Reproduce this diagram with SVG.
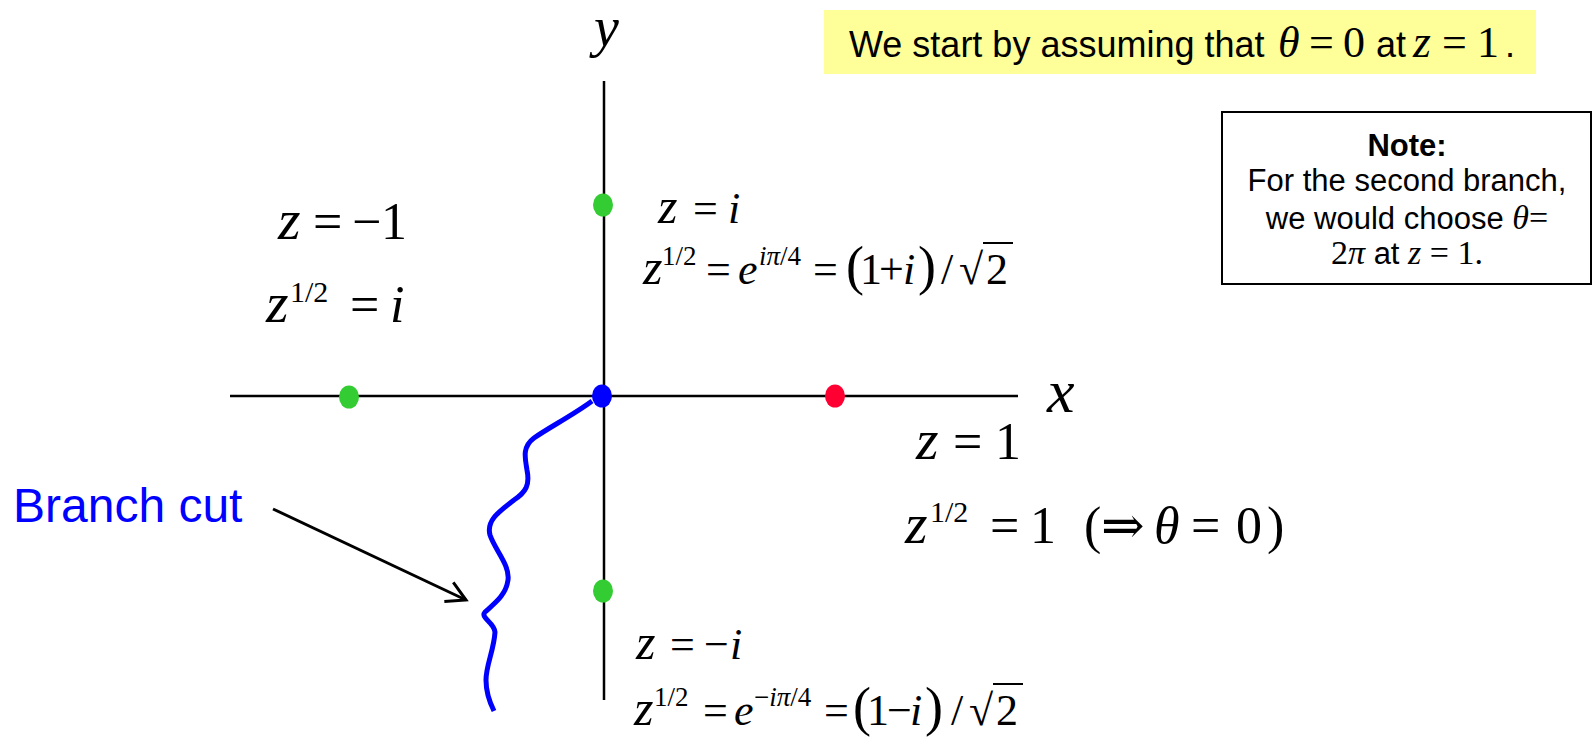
<svg xmlns="http://www.w3.org/2000/svg" width="1593" height="737" viewBox="0 0 1593 737">
<style>
.ax{stroke:#000;stroke-width:2.5;fill:none}
.sf{font-family:"Liberation Serif","DejaVu Serif",serif;fill:#000}
.it{font-style:italic}
.ar{font-family:"Liberation Sans",Arial,sans-serif;fill:#000}
.big{font-size:52px}
.med{font-size:44px}
.zb{font-size:58px}
.zm{font-size:50px}
.sup{font-size:30px}
.sup2{font-size:27px}
.par{font-size:54px}
.g{fill:#33CC33}
.bar{stroke:#000;stroke-width:2}
</style>
<defs>
<marker id="arrowOpen" markerUnits="userSpaceOnUse" viewBox="-25 -15 30 30" markerWidth="30" markerHeight="30" refX="0" refY="0" orient="auto">
<path d="M-19,-10.5 L0,0 L-19,10.5" fill="none" stroke="#000" stroke-width="3"/>
</marker>
</defs>
<rect width="1593" height="737" fill="#fff"/>

<g id="axes">
<line class="ax" x1="230" y1="396" x2="1018" y2="396"/>
<line class="ax" x1="604" y1="81" x2="604" y2="700"/>
<text class="sf it" x="594" y="46" font-size="56">y</text>
<text class="sf it" x="1047" y="412" font-size="62">x</text>
</g>

<g id="branch-cut">
<path d="M592,401 C575,414 548,428 534,438 C522,447 525,458 527,470 C530,485 526,492 514,500 C500,511 486,520 490,535 C495,550 510,565 508,580 C506,595 495,603 485,612 C480,618 494,622 495,632 C494,650 486,665 486,680 C486,695 491,705 494,711" fill="none" stroke="#0000FF" stroke-width="5"/>
</g>

<g id="node-minus1">
<ellipse class="g" cx="349" cy="397" rx="10" ry="11.5"/>
<text class="sf big" y="239"><tspan class="it zb" x="278">z</tspan><tspan x="313">=</tspan><tspan x="352">−</tspan><tspan x="381">1</tspan></text>
<text class="sf big" y="322"><tspan class="it zb" x="266">z</tspan><tspan class="sup" x="290" y="302">1/2</tspan><tspan x="350" y="322">=</tspan><tspan class="it" x="390">i</tspan></text>
</g>

<g id="node-origin">
<ellipse cx="602" cy="396" rx="10" ry="11.5" fill="#0000FF"/>
</g>

<g id="node-plus1">
<ellipse cx="835" cy="396" rx="10" ry="11.5" fill="#FF0033"/>
<text class="sf big" y="459"><tspan class="it zb" x="916">z</tspan><tspan x="953">=</tspan><tspan x="995">1</tspan></text>
<text class="sf big" y="543"><tspan class="it zb" x="905">z</tspan><tspan class="sup" x="930" y="522">1/2</tspan><tspan x="990" y="543">=</tspan><tspan x="1030">1</tspan><tspan x="1084">(</tspan><tspan x="1101">⇒</tspan><tspan class="it" x="1154">θ</tspan><tspan x="1191">=</tspan><tspan x="1236">0</tspan><tspan x="1267">)</tspan></text>
</g>

<g id="node-i">
<ellipse class="g" cx="603" cy="205" rx="10" ry="11.5"/>
<text class="sf med" y="223"><tspan class="it zm" x="658">z</tspan><tspan x="693">=</tspan><tspan class="it" x="728">i</tspan></text>
<text class="sf med" y="284"><tspan class="it zm" x="643">z</tspan><tspan class="sup2" x="662" y="265">1/2</tspan><tspan x="706" y="284">=</tspan><tspan class="it" x="738">e</tspan><tspan class="sup2" y="265"><tspan class="it" x="759">iπ</tspan><tspan>/4</tspan></tspan><tspan x="813" y="284">=</tspan><tspan class="par" x="846">(</tspan><tspan x="860">1</tspan><tspan x="879">+</tspan><tspan class="it" x="903">i</tspan><tspan class="par" x="918">)</tspan><tspan x="941">/</tspan><tspan x="959">√</tspan><tspan x="986">2</tspan></text>
<line class="bar" x1="983" y1="243" x2="1013" y2="243"/>
</g>

<g id="node-minus-i">
<ellipse class="g" cx="603" cy="591" rx="10" ry="11.5"/>
<text class="sf med" y="659"><tspan class="it zm" x="636">z</tspan><tspan x="670">=</tspan><tspan x="704">−</tspan><tspan class="it" x="730">i</tspan></text>
<text class="sf med" y="725"><tspan class="it zm" x="634">z</tspan><tspan class="sup2" x="654" y="706">1/2</tspan><tspan x="703" y="725">=</tspan><tspan class="it" x="734">e</tspan><tspan class="sup2" y="706"><tspan x="754">−</tspan><tspan class="it">iπ</tspan><tspan>/4</tspan></tspan><tspan x="824" y="725">=</tspan><tspan class="par" x="853">(</tspan><tspan x="867">1</tspan><tspan x="887">−</tspan><tspan class="it" x="910">i</tspan><tspan class="par" x="925">)</tspan><tspan x="951">/</tspan><tspan x="969">√</tspan><tspan x="996">2</tspan></text>
<line class="bar" x1="993" y1="684" x2="1023" y2="684"/>
</g>

<g id="label-branch-cut">
<text class="ar" x="13" y="522" font-size="48" style="fill:#0000FF">Branch cut</text>
</g>

<g id="connectors">
<line x1="273" y1="509" x2="466" y2="600" stroke="#000" stroke-width="3" marker-end="url(#arrowOpen)"/>
</g>

<g id="assumption-box">
<rect x="824" y="10" width="712" height="64" fill="#FFFF99"/>
<text y="57"><tspan class="ar" x="849" font-size="36">We start by assuming that</tspan><tspan class="sf it" x="1278" font-size="44">θ</tspan><tspan class="sf" x="1309" font-size="44">=</tspan><tspan class="sf" x="1343" font-size="44">0</tspan><tspan class="ar" x="1376" font-size="36">at</tspan><tspan class="sf it" x="1413" font-size="46">z</tspan><tspan class="sf" x="1442" font-size="44">=</tspan><tspan class="sf" x="1477" font-size="44">1</tspan><tspan class="ar" x="1505" font-size="36">.</tspan></text>
</g>

<g id="note-box">
<rect x="1222" y="112" width="369" height="172" fill="#fff" stroke="#000" stroke-width="2"/>
<text class="ar" x="1407" y="156" font-size="31" font-weight="bold" text-anchor="middle">Note:</text>
<text class="ar" x="1407" y="191" font-size="31" text-anchor="middle">For the second branch,</text>
<text x="1407" y="229" font-size="31" text-anchor="middle"><tspan class="ar">we would choose </tspan><tspan class="sf it" font-size="34">θ</tspan><tspan class="sf" font-size="34">=</tspan></text>
<text x="1407" y="264" font-size="31" text-anchor="middle"><tspan class="sf" font-size="34">2</tspan><tspan class="sf it" font-size="34">π</tspan><tspan class="ar"> at </tspan><tspan class="sf it" font-size="34">z</tspan><tspan class="sf" font-size="34"> = 1.</tspan></text>
</g>
</svg>
